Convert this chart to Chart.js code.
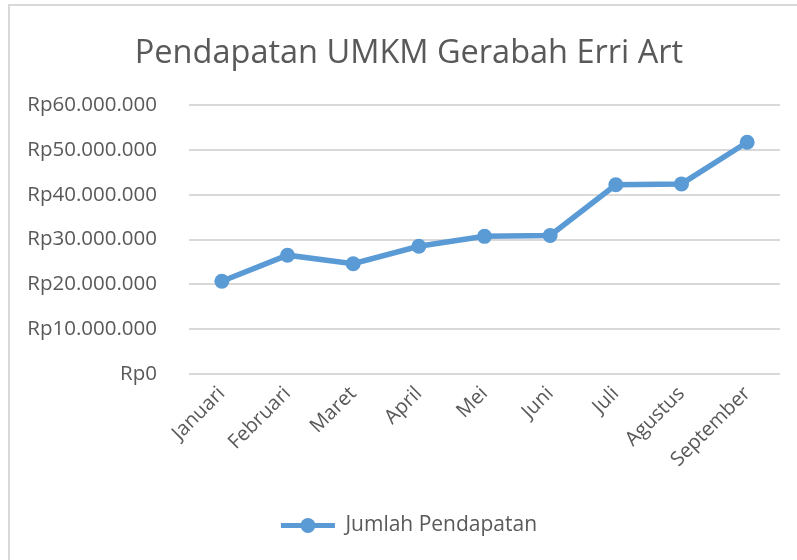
<!DOCTYPE html>
<html>
<head>
<meta charset="utf-8">
<script src="https://cdn.jsdelivr.net/npm/chart.js@4"></script>
<style>
  html, body { margin: 0; padding: 0; background: #ffffff; overflow: hidden; width: 797px; height: 560px; }
  #box { position: absolute; left: 8px; top: 4px; width: 800px; height: 560px;
         border-left: 2px solid #d9d9d9; border-top: 2px solid #d9d9d9; background: #fff; }
  canvas { display: block; }
</style>
</head>
<body>
<div id="box"><canvas id="c" width="798" height="554"></canvas></div>
<script>
const chartTitle = 'Pendapatan UMKM Gerabah Erri Art';
const seriesName = 'Jumlah Pendapatan';
const months = ['Januari', 'Februari', 'Maret', 'April', 'Mei', 'Juni', 'Juli', 'Agustus', 'September'];
const pendapatan = [20700000, 26500000, 24600000, 28500000, 30700000, 30900000, 42200000, 42400000, 51700000];
const yTickValues = [0, 10000000, 20000000, 30000000, 40000000, 50000000, 60000000];
const yTickLabels = ['Rp0', 'Rp10.000.000', 'Rp20.000.000', 'Rp30.000.000', 'Rp40.000.000', 'Rp50.000.000', 'Rp60.000.000'];

const lineColor = '#5b9bd5';
const textColor = '#595959';
const fontFamily = "'Open Sans', 'Noto Sans', sans-serif";
const legendBoxW = 54;

new Chart(document.getElementById('c'), {
  type: 'line',
  data: {
    labels: months,
    datasets: [{
      label: seriesName,
      data: pendapatan,
      borderColor: lineColor,
      backgroundColor: lineColor,
      borderWidth: 5.5,
      pointRadius: 7.5,
      pointHoverRadius: 7.5,
      pointBackgroundColor: lineColor,
      pointBorderColor: lineColor,
      pointBorderWidth: 0,
      tension: 0,
      fill: false,
      yAxisID: 'y'
    }]
  },
  options: {
    responsive: false,
    animation: false,
    devicePixelRatio: 1,
    layout: { padding: { left: 0, right: 0, top: 0, bottom: 14 } },
    plugins: {
      title: {
        display: true,
        text: chartTitle,
        color: textColor,
        font: { family: fontFamily, size: 32.5, weight: 'normal' },
        padding: { top: 28, bottom: 32 }
      },
      legend: {
        display: true,
        position: 'bottom',
        labels: {
          color: textColor,
          font: { family: fontFamily, size: 21 },
          usePointStyle: false,
          boxWidth: legendBoxW,
          boxHeight: 5,
          generateLabels(chart) {
            const ds = chart.data.datasets[0];
            return [{
              text: ds.label,
              fillStyle: lineColor,
              strokeStyle: lineColor,
              lineWidth: 0,
              fontColor: textColor,
              datasetIndex: 0
            }];
          }
        }
      },
      tooltip: { enabled: false }
    },
    scales: {
      x: {
        offset: true,
        grid: { display: false, drawTicks: false },
        border: { display: false },
        ticks: {
          color: textColor,
          font: { family: fontFamily, size: 20 },
          maxRotation: 45,
          minRotation: 45,
          padding: 8,
          autoSkip: false
        },
        afterFit(scale) { scale.height = 131; }
      },
      y: {
        min: 0,
        max: 60000000,
        afterBuildTicks(scale) { scale.ticks = yTickValues.map(v => ({ value: v })); },
        grid: { color: '#d9d9d9', lineWidth: 2, drawTicks: false },
        border: { display: false },
        ticks: {
          color: textColor,
          font: { family: fontFamily, size: 20.5 },
          padding: 32,
          callback(value, index) { return yTickLabels[index]; }
        },
        afterFit(scale) { scale.width = 179; }
      },
      ySpacer: {
        position: 'right',
        display: true,
        grid: { display: false, drawTicks: false },
        border: { display: false },
        ticks: { display: false },
        afterFit(scale) { scale.width = 28; }
      }
    }
  },
  plugins: [{
    id: 'legendPoint',
    afterDraw(chart) {
      const legend = chart.legend;
      if (!legend || !legend.legendHitBoxes || !legend.legendHitBoxes.length) return;
      const hb = legend.legendHitBoxes[0];
      const ctx = chart.ctx;
      const cx = hb.left + legendBoxW / 2;
      const cy = hb.top + hb.height / 2;
      ctx.save();
      ctx.fillStyle = lineColor;
      ctx.beginPath();
      ctx.arc(cx, cy, 7.5, 0, Math.PI * 2);
      ctx.fill();
      ctx.restore();
    }
  }]
});
</script>
</body>
</html>
